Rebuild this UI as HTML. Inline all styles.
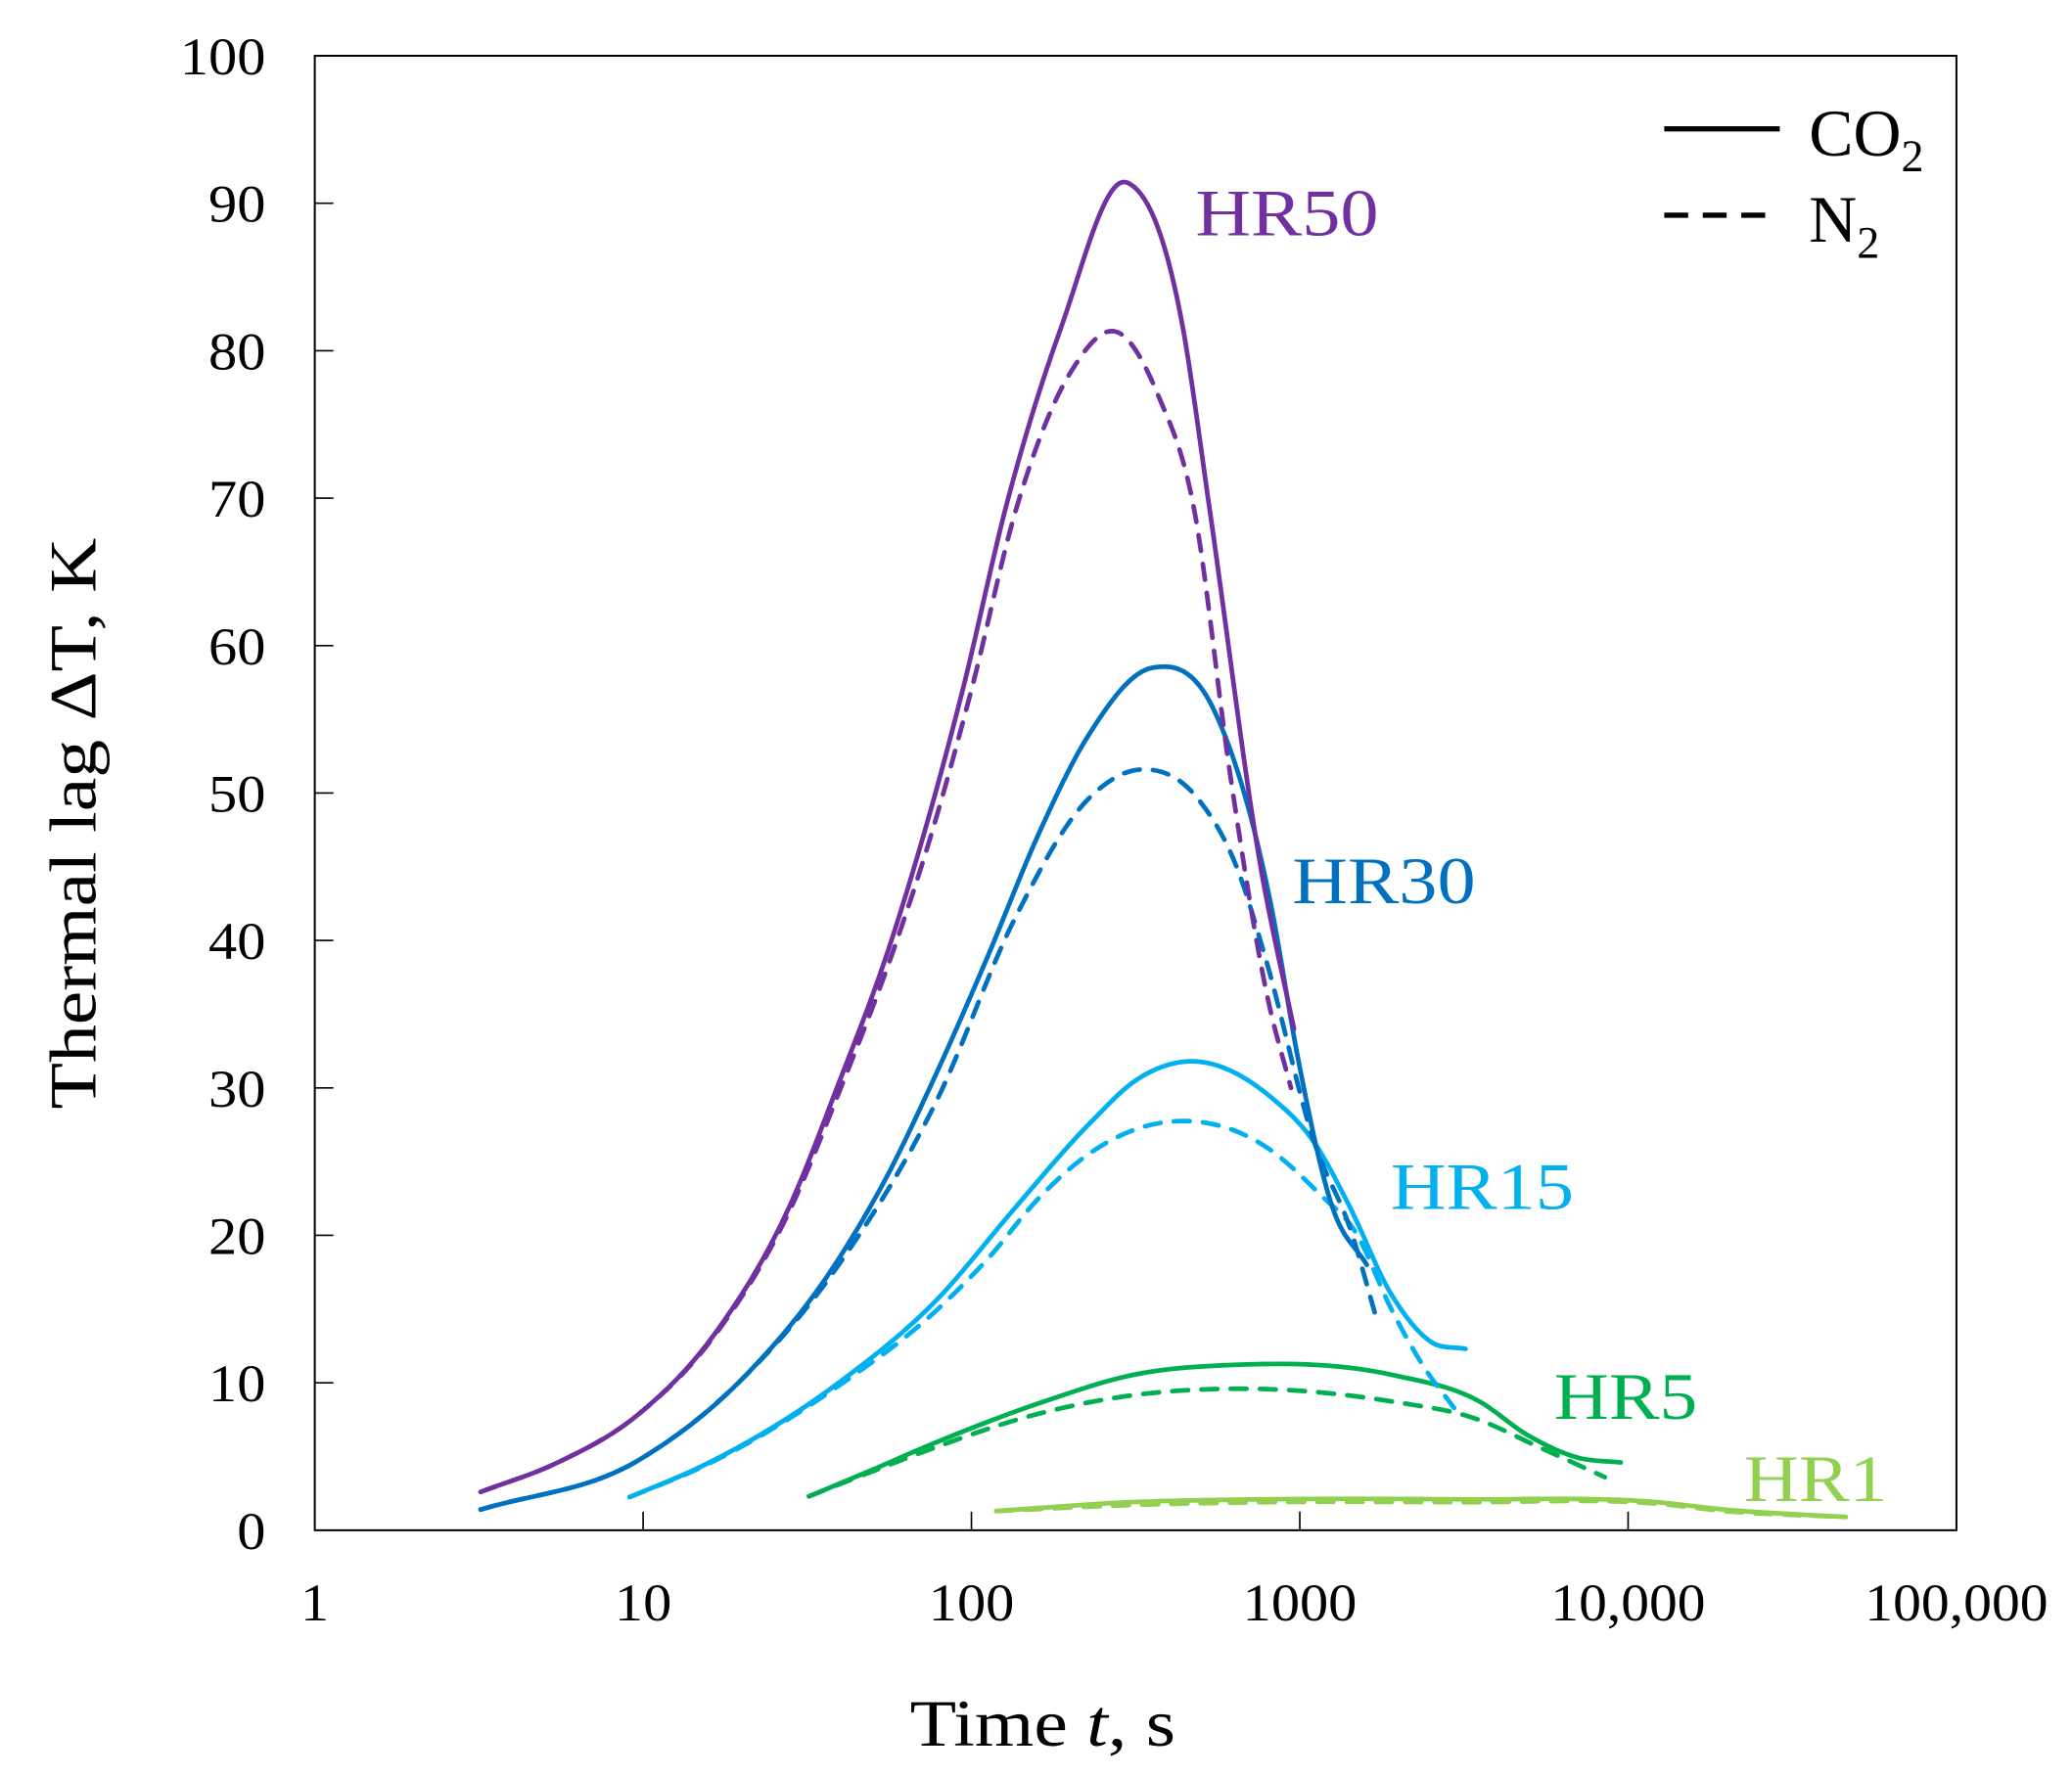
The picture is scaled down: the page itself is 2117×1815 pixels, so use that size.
<!DOCTYPE html>
<html><head><meta charset="utf-8"><style>
html,body{margin:0;padding:0;background:#fff;}
svg{display:block;}
text{font-family:"Liberation Serif",serif;fill:#000;}
</style></head><body>
<svg id="chart" width="2117" height="1815" viewBox="0 0 1560 1337" preserveAspectRatio="none" xmlns="http://www.w3.org/2000/svg">
<rect x="237" y="42" width="1236" height="1110" fill="none" stroke="#000" stroke-width="1.5"/>
<g id="ticks"></g>
<g id="series"></g>
<text transform="translate(72,620) rotate(-90)" text-anchor="middle" font-size="50" textLength="430" lengthAdjust="spacingAndGlyphs">Thermal lag ΔT, K</text>
<text x="785" y="1314" text-anchor="middle" font-size="50" textLength="200" lengthAdjust="spacingAndGlyphs">Time <tspan font-style="italic">t</tspan>, s</text>
<g>
<line x1="1253" y1="97" x2="1340" y2="97" stroke="#000" stroke-width="4"/>
<text x="1362" y="117" font-size="50">CO<tspan font-size="34" dy="12">2</tspan></text>
<line x1="1253" y1="162" x2="1340" y2="162" stroke="#000" stroke-width="4" stroke-dasharray="18,11"/>
<text x="1362" y="182" font-size="50">N<tspan font-size="34" dy="12">2</tspan></text>
</g>
<text x="900" y="177" font-size="50" style="fill:#7030A0" textLength="138" lengthAdjust="spacingAndGlyphs">HR50</text>
<text x="973" y="680" font-size="50" style="fill:#0070C0" textLength="138" lengthAdjust="spacingAndGlyphs">HR30</text>
<text x="1047" y="910" font-size="50" style="fill:#00B0F0" textLength="138" lengthAdjust="spacingAndGlyphs">HR15</text>
<text x="1170" y="1068" font-size="50" style="fill:#00B050" textLength="108" lengthAdjust="spacingAndGlyphs">HR5</text>
<text x="1313" y="1130" font-size="50" style="fill:#92D050" textLength="108" lengthAdjust="spacingAndGlyphs">HR1</text>
</svg>
<script>
const xTickValues = [1, 10, 100, 1000, 10000, 100000];
const xTickLabels = ["1", "10", "100", "1000", "10,000", "100,000"];
const yTickValues = [0, 10, 20, 30, 40, 50, 60, 70, 80, 90, 100];
const seriesNames = ["HR50", "HR30", "HR15", "HR5", "HR1"];
const hr50Times = [3.2, 5.5, 9.6, 16.5, 27.7, 39.4, 55.9, 71.6, 94.8, 127, 187, 298, 441, 531, 764, 960];
const hr50CO2 = [2.6, 4.6, 7.8, 13.3, 21.8, 30.3, 39.4, 47.2, 57.3, 69.3, 81.5, 91.4, 81.5, 69.3, 44.7, 34];
const hr50N2Times = [3.2, 5.5, 9.6, 16.5, 27.7, 40, 58, 75, 100, 137, 200, 282, 370, 476, 617, 800, 940];
const hr50N2 = [2.6, 4.6, 7.8, 13.2, 21.5, 30, 39.4, 47, 57, 69.3, 78.5, 81.2, 77, 69.3, 50.9, 36, 30];
const hr30Times = [3.2, 9.6, 19.5, 39.4, 55.9, 79, 112, 160, 227, 356, 546, 824, 980, 1253, 1600];
const hr30CO2 = [1.4, 4.7, 10, 18.4, 24.2, 31.2, 38.9, 47.2, 53.9, 58.5, 55.7, 42, 32.4, 22, 18];
const hr30N2Times = [3.2, 9.6, 19.5, 39.4, 79, 135, 227, 331, 490, 647, 791, 1107, 1437, 1700];
const hr30N2 = [1.4, 4.7, 10, 18, 29.3, 41.4, 49.6, 51.6, 49.6, 44.8, 38.6, 26.3, 20.2, 14.6];
const hr15Times = [9.1, 14.8, 39.4, 79, 135, 227, 321, 457, 824, 1107, 1415, 1900, 2500, 3200];
const hr15CO2 = [2.25, 4.25, 10, 15.7, 21.8, 27.5, 30.6, 31.8, 29.3, 26.3, 22, 16, 12.8, 12.3];
const hr15N2Times = [9.1, 14.8, 39.4, 79, 112, 160, 227, 398, 801, 1150, 1480, 1900, 2400, 2950];
const hr15N2 = [2.25, 4.2, 9.8, 15, 18.4, 22.5, 25.5, 27.7, 25.9, 22.8, 20.2, 15, 11, 8.3];
const hr5Times = [32, 48.7, 75, 160, 321, 604, 1950, 3550, 4900, 7100, 9500];
const hr5CO2 = [2.3, 4.0, 5.8, 8.6, 10.6, 11.2, 10.5, 8.7, 6.5, 4.9, 4.6];
const hr5N2Times = [32, 48.7, 75, 160, 321, 647, 1950, 3400, 5400, 8500];
const hr5N2 = [2.3, 3.9, 5.5, 7.9, 9.2, 9.6, 8.7, 7.6, 5.6, 3.6];
const hr1Times = [119, 300, 765, 3100, 12300, 19700, 46000];
const hr1CO2 = [1.3, 1.9, 2.1, 2.1, 1.9, 1.4, 0.9];
const hr1N2 = [1.3, 1.7, 1.9, 1.9, 1.8, 1.3, 0.9];

const X0 = 237, X1 = 1473, Y0 = 1152, Y1 = 42;
function xScale(t){ return X0 + Math.log10(t) / 5 * (X1 - X0); }
function yScale(v){ return Y0 - v / 100 * (Y0 - Y1); }
function labelWidth(s){ let w = 0; for (const ch of s) w += (ch === ',') ? 9 : 21.5; return w; }
const NS = "http://www.w3.org/2000/svg";
const ticks = document.getElementById("ticks");
xTickValues.forEach((v, i) => {
  const x = xScale(v);
  if (i > 0 && i < xTickValues.length - 1) {
    const l = document.createElementNS(NS, "line");
    
    
    l.setAttribute("x1", x); l.setAttribute("x2", x);
    l.setAttribute("y1", Y0); l.setAttribute("y2", Y0 - 14);
    l.setAttribute("stroke", "#000"); l.setAttribute("stroke-width", "1.2");
    ticks.appendChild(l);
  }
  const t = document.createElementNS(NS, "text");
  
  
  t.setAttribute("x", x); t.setAttribute("y", 1220);
  t.setAttribute("text-anchor", "middle"); t.setAttribute("font-size", "40");
  t.setAttribute("textLength", labelWidth(xTickLabels[i]));
  t.setAttribute("lengthAdjust", "spacingAndGlyphs");
  t.textContent = xTickLabels[i];
  ticks.appendChild(t);
});
yTickValues.forEach(v => {
  const y = yScale(v);
  if (v > 0 && v < 100) {
    const l = document.createElementNS(NS, "line");
    
    
    l.setAttribute("x1", X0); l.setAttribute("x2", X0 + 14);
    l.setAttribute("y1", y); l.setAttribute("y2", y);
    l.setAttribute("stroke", "#000"); l.setAttribute("stroke-width", "1.2");
    ticks.appendChild(l);
  }
  const t = document.createElementNS(NS, "text");
  
  
  t.setAttribute("x", 200); t.setAttribute("y", y + 14);
  t.setAttribute("text-anchor", "end"); t.setAttribute("font-size", "40");
  t.setAttribute("textLength", labelWidth(String(v)));
  t.setAttribute("lengthAdjust", "spacingAndGlyphs");
  t.textContent = String(v);
  ticks.appendChild(t);
});
function pathFrom(times, vals){
  const x = times.map(xScale), y = vals.map(yScale), n = x.length;
  const d = [], m = [];
  for (let i = 0; i < n - 1; i++) d.push((y[i + 1] - y[i]) / (x[i + 1] - x[i]));
  for (let i = 0; i < n; i++) {
    if (i === 0) m.push(d[0]);
    else if (i === n - 1) m.push(d[n - 2]);
    else {
      const h0 = x[i] - x[i - 1], h1 = x[i + 1] - x[i];
      m.push((d[i - 1] * h1 + d[i] * h0) / (h0 + h1));
    }
  }
  let p = "M" + x[0] + "," + y[0];
  for (let i = 0; i < n - 1; i++) {
    const h = x[i + 1] - x[i];
    p += " C" + (x[i] + h / 3) + "," + (y[i] + m[i] * h / 3) + " " +
         (x[i + 1] - h / 3) + "," + (y[i + 1] - m[i + 1] * h / 3) + " " + x[i + 1] + "," + y[i + 1];
  }
  return p;
}
const seriesG = document.getElementById("series");
function addLine(name, times, vals, color, dashed){
  const el = document.createElementNS(NS, "path");
  
  
  el.setAttribute("d", pathFrom(times, vals));
  el.setAttribute("fill", "none");
  el.setAttribute("stroke", color);
  el.setAttribute("stroke-width", "3.5");
  el.setAttribute("stroke-linecap", "round");
  if (dashed) el.setAttribute("stroke-dasharray", "12,10");
  seriesG.appendChild(el);
}
addLine("hr1-n2-line", hr1Times, hr1N2, "#92D050", true);
addLine("hr1-co2-line", hr1Times, hr1CO2, "#92D050", false);
addLine("hr5-n2-line", hr5N2Times, hr5N2, "#00B050", true);
addLine("hr5-co2-line", hr5Times, hr5CO2, "#00B050", false);
addLine("hr15-n2-line", hr15N2Times, hr15N2, "#00B0F0", true);
addLine("hr15-co2-line", hr15Times, hr15CO2, "#00B0F0", false);
addLine("hr30-n2-line", hr30N2Times, hr30N2, "#0070C0", true);
addLine("hr30-co2-line", hr30Times, hr30CO2, "#0070C0", false);
addLine("hr50-n2-line", hr50N2Times, hr50N2, "#7030A0", true);
addLine("hr50-co2-line", hr50Times, hr50CO2, "#7030A0", false);
</script>
</body></html>
